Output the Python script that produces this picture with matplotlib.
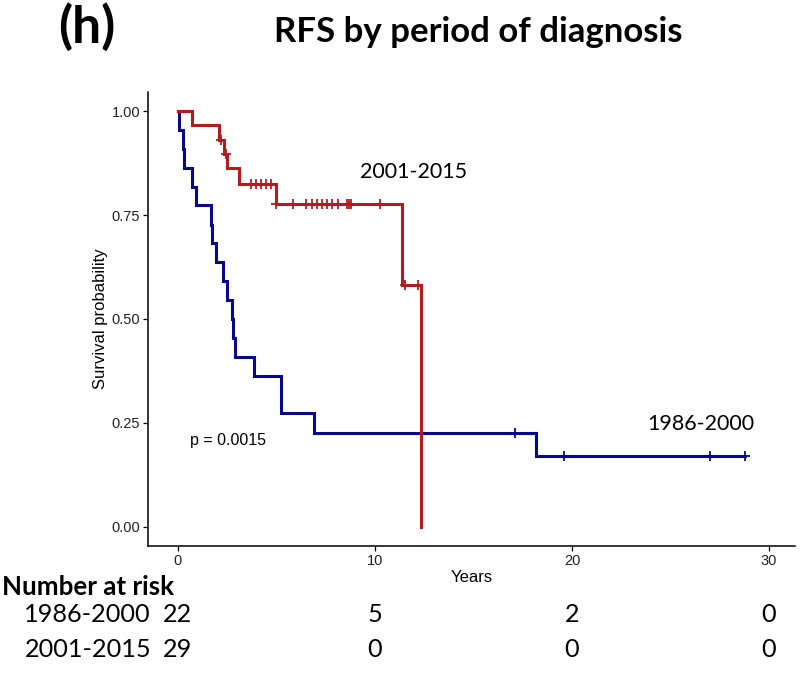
import numpy as np
import matplotlib
matplotlib.use("Agg")
import matplotlib.pyplot as plt
from matplotlib.transforms import blended_transform_factory

# ---------------- data ----------------
groups = ["1986-2000", "2001-2015"]

# Kaplan-Meier step curves (time in years, survival probability)
t_1986 = [0, 0.05, 0.24, 0.30, 0.69, 0.90, 1.66, 1.71, 1.93, 2.30, 2.50, 2.72,
          2.81, 2.89, 3.87, 5.21, 6.92, 18.15, 28.8]
s_1986 = [1.0, 0.955, 0.909, 0.864, 0.818, 0.773, 0.727, 0.682, 0.636, 0.591,
          0.545, 0.500, 0.455, 0.409, 0.364, 0.273, 0.227, 0.170, 0.170]
cens_1986 = [17.1, 19.6, 27.0, 28.8]

t_2001 = [0, 0.73, 2.10, 2.34, 2.47, 3.10, 4.96, 11.35, 12.34]
s_2001 = [1.0, 0.966, 0.931, 0.897, 0.862, 0.825, 0.776, 0.582, 0.0]
cens_2001 = [2.2, 2.45, 3.69, 3.94, 4.20, 4.47, 4.74, 5.0, 5.85, 6.48, 6.79,
             7.04, 7.29, 7.55, 7.83, 8.14, 8.60, 8.68, 8.77, 10.25, 11.52, 12.2]

p_value_text = "p = 0.0015"
risk_times = [0, 10, 20, 30]
risk_1986 = [22, 5, 2, 0]
risk_2001 = [29, 0, 0, 0]

x_ticks = [0, 10, 20, 30]
y_ticks = [0.00, 0.25, 0.50, 0.75, 1.00]

# ---------------- style ----------------
RED = "#B31B21"
BLUE = "#08088F"
TXT_FONT = ["Lato", "DejaVu Sans"]
AX_FONT = ["Liberation Sans", "DejaVu Sans"]

fig = plt.figure(figsize=(8.0, 6.81), dpi=100)
W, H = 800, 681
ax = fig.add_axes([148 / W, 1 - 546 / H, (795 - 148) / W, (546 - 92) / H])


def step_level(times, surv, t):
    i = np.searchsorted(np.asarray(times), t, side="right") - 1
    return np.asarray(surv)[i]


for times, surv, cens, col in [(t_1986, s_1986, cens_1986, BLUE),
                               (t_2001, s_2001, cens_2001, RED)]:
    ax.step(times, surv, where="post", color=col, lw=2.2, solid_joinstyle="miter")
    cy = [step_level(times, surv, c) for c in cens]
    ax.plot(cens, cy, ls="none", marker="+", ms=7, mew=1.3, color=col)

ax.set_xlim(-1.52, 31.32)
ax.set_ylim(-0.0457, 1.0457)
ax.set_xticks(x_ticks)
ax.set_xticklabels([str(v) for v in x_ticks])
ax.set_yticks(y_ticks)
ax.set_yticklabels([f"{v:.2f}" for v in y_ticks])
for sp in ["top", "right"]:
    ax.spines[sp].set_visible(False)
for sp in ["left", "bottom"]:
    ax.spines[sp].set_linewidth(1.1)
ax.tick_params(axis="both", length=3.6, width=0.9, pad=2, labelsize=10.5,
               colors="black")
for lab in ax.get_xticklabels() + ax.get_yticklabels():
    lab.set_family(AX_FONT)
    lab.set_color("#222222")

# axis titles
fig.text(100 / W, 1 - 319 / H, "Survival probability", rotation=90,
         ha="center", va="center", fontsize=12, family=AX_FONT)
fig.text(472 / W, 1 - 578 / H, "Years", ha="center", va="center",
         fontsize=12, family=AX_FONT)

# annotations in the panel
ax.text(0.6, 0.207, p_value_text, ha="left", va="center", fontsize=11.5,
        family=AX_FONT)
ax.text(11.95, 0.839, groups[1], ha="center", va="baseline", fontsize=15.5,
        family=TXT_FONT)
ax.text(26.55, 0.233, groups[0], ha="center", va="baseline", fontsize=15.5,
        family=TXT_FONT)

# titles
fig.text(87 / W, 1 - 43 / H, "(h)", ha="center", va="baseline", fontsize=37,
         fontweight="bold", family=TXT_FONT)
fig.text(478 / W, 1 - 42 / H, "RFS by period of diagnosis", ha="center",
         va="baseline", fontsize=25, fontweight="bold", family=TXT_FONT)

# number at risk table
fig.text(2 / W, 1 - 595 / H, "Number at risk", ha="left", va="baseline",
         fontsize=18.6, fontweight="bold", family=TXT_FONT)
tr = blended_transform_factory(ax.transData, fig.transFigure)
for label, vals, base in [(groups[0], risk_1986, 622), (groups[1], risk_2001, 657)]:
    fig.text(151 / W, 1 - base / H, label, ha="right", va="baseline",
             fontsize=18.2, family=TXT_FONT)
    for t, v in zip(risk_times, vals):
        ax.text(t, 1 - base / H, str(v), transform=tr, ha="center",
                va="baseline", fontsize=18.2, family=TXT_FONT, clip_on=False)

fig.savefig("out.png", dpi=100, facecolor="white")
